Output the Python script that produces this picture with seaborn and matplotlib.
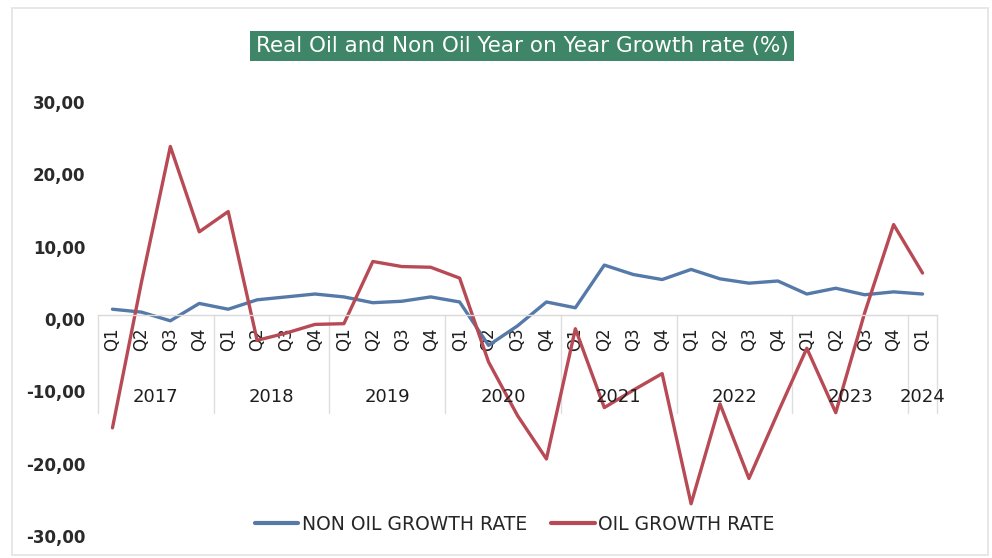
import matplotlib
matplotlib.use("Agg")
import matplotlib.pyplot as plt
import matplotlib.transforms as mtransforms
from matplotlib.patches import Rectangle
import numpy as np
import pandas as pd
import seaborn as sns

# Quarterly periods, 2017 Q1 to 2024 Q1
years = ["2017", "2018", "2019", "2020", "2021", "2022", "2023", "2024"]
quarters_per_year = [4, 4, 4, 4, 4, 4, 4, 1]
quarter_labels = ["Q1", "Q2", "Q3", "Q4"] * 7 + ["Q1"]

# Year-on-year growth rates (%)
non_oil_growth = [0.8, 0.4, -0.8, 1.6, 0.8, 2.1, 2.5, 2.9,
                  2.5, 1.7, 1.9, 2.5, 1.8, -4.2, -1.5, 1.8,
                  1.0, 6.9, 5.6, 4.9, 6.3, 5.0, 4.4, 4.7,
                  2.9, 3.7, 2.8, 3.2, 2.9]
oil_growth = [-15.6, 4.5, 23.3, 11.5, 14.3, -3.5, -2.5, -1.3,
              -1.2, 7.4, 6.7, 6.6, 5.1, -6.5, -13.9, -19.9,
              -1.9, -12.8, -10.4, -8.1, -26.1, -12.3, -22.6, -13.5,
              -4.6, -13.5, 0.3, 12.5, 5.8]

series_names = ["NON OIL GROWTH RATE", "OIL GROWTH RATE"]
series_colors = ["#5579a8", "#b84a55"]
title_text = "Real Oil and Non Oil Year on Year Growth rate (%)"

n = len(quarter_labels)
idx = np.arange(n)
df = pd.concat([
    pd.DataFrame({"period": idx, "value": non_oil_growth, "series": series_names[0]}),
    pd.DataFrame({"period": idx, "value": oil_growth, "series": series_names[1]}),
])

sns.set_theme(style="white")
plt.rcParams["font.family"] = ["DejaVu Sans"]

W, H = 992, 558
fig = plt.figure(figsize=(W / 100, H / 100), dpi=100)
ax_left, ax_right, ax_top, ax_bottom = 98, 937, 98, 532
ax = fig.add_axes([ax_left / W, 1 - ax_bottom / H,
                   (ax_right - ax_left) / W, (ax_bottom - ax_top) / H])

sns.lineplot(data=df, x="period", y="value", hue="series",
             palette=dict(zip(series_names, series_colors)),
             linewidth=2.4, ax=ax, legend=True, sort=False)

ax.set_xlim(-0.5, n - 0.5)
ax.set_ylim(-30, 30)
ax.set_yticks(np.arange(-30, 31, 10))
ax.set_yticklabels([f"{v:.2f}".replace(".", ",") for v in np.arange(-30, 31, 10)],
                   fontsize=12, fontweight="bold", color="#2a2a2a")
ax.set_xlabel("")
ax.set_ylabel("")

# Category axis crossing at zero
for side in ["left", "right", "top"]:
    ax.spines[side].set_visible(False)
ax.spines["bottom"].set_position(("data", 0))
ax.spines["bottom"].set_color("#d9d9d9")
ax.spines["bottom"].set_linewidth(1.0)

ax.set_xticks(idx)
ax.set_xticklabels(quarter_labels, rotation=90, fontsize=12, color="#1e1e1e")
ax.tick_params(axis="x", length=0, pad=9)
ax.tick_params(axis="y", length=0, pad=9)

# Nudge the value labels slightly below their tick positions
shift = mtransforms.ScaledTranslation(0, -4 / 100, fig.dpi_scale_trans)
for tick in ax.yaxis.get_major_ticks():
    tick.label1.set_transform(tick.label1.get_transform() + shift)

# Year group labels and separators beneath the quarter labels
blend = mtransforms.blended_transform_factory(ax.transData, ax.transAxes)
bounds = np.concatenate([[0], np.cumsum(quarters_per_year)]) - 0.5
for b in bounds:
    ax.plot([b, b], [0.5, 0.275], transform=blend, color="#dedede",
            linewidth=1.0, clip_on=False, zorder=0)
for yr, lo, hi in zip(years, bounds[:-1], bounds[1:]):
    ax.text((lo + hi) / 2, 0.31, yr, transform=blend, ha="center", va="center",
            fontsize=13, color="#1e1e1e")

# Legend along the bottom
handles, labels = ax.get_legend_handles_labels()
ax.legend(handles, labels, loc="center", bbox_to_anchor=(0.519, 1 - 524 / H),
          bbox_transform=fig.transFigure, ncol=2, frameon=False,
          fontsize=13.5, handlelength=2.3, handletextpad=0.2, columnspacing=1.3)
for line in ax.get_legend().get_lines():
    line.set_linewidth(3)

# Title on a green band
fig.text(522 / W, 1 - 46 / H, title_text, ha="center", va="center",
         fontsize=15.5, color="white",
         bbox=dict(facecolor="#3f8567", edgecolor="none", boxstyle="square,pad=0.25"))

# Chart frame
fig.patches.append(Rectangle((12 / W, 3 / H), (W - 16) / W, (H - 11) / H,
                             transform=fig.transFigure, fill=False,
                             edgecolor="#e3e3e3", linewidth=1.2))

fig.savefig("out.png", dpi=100, facecolor="white")
